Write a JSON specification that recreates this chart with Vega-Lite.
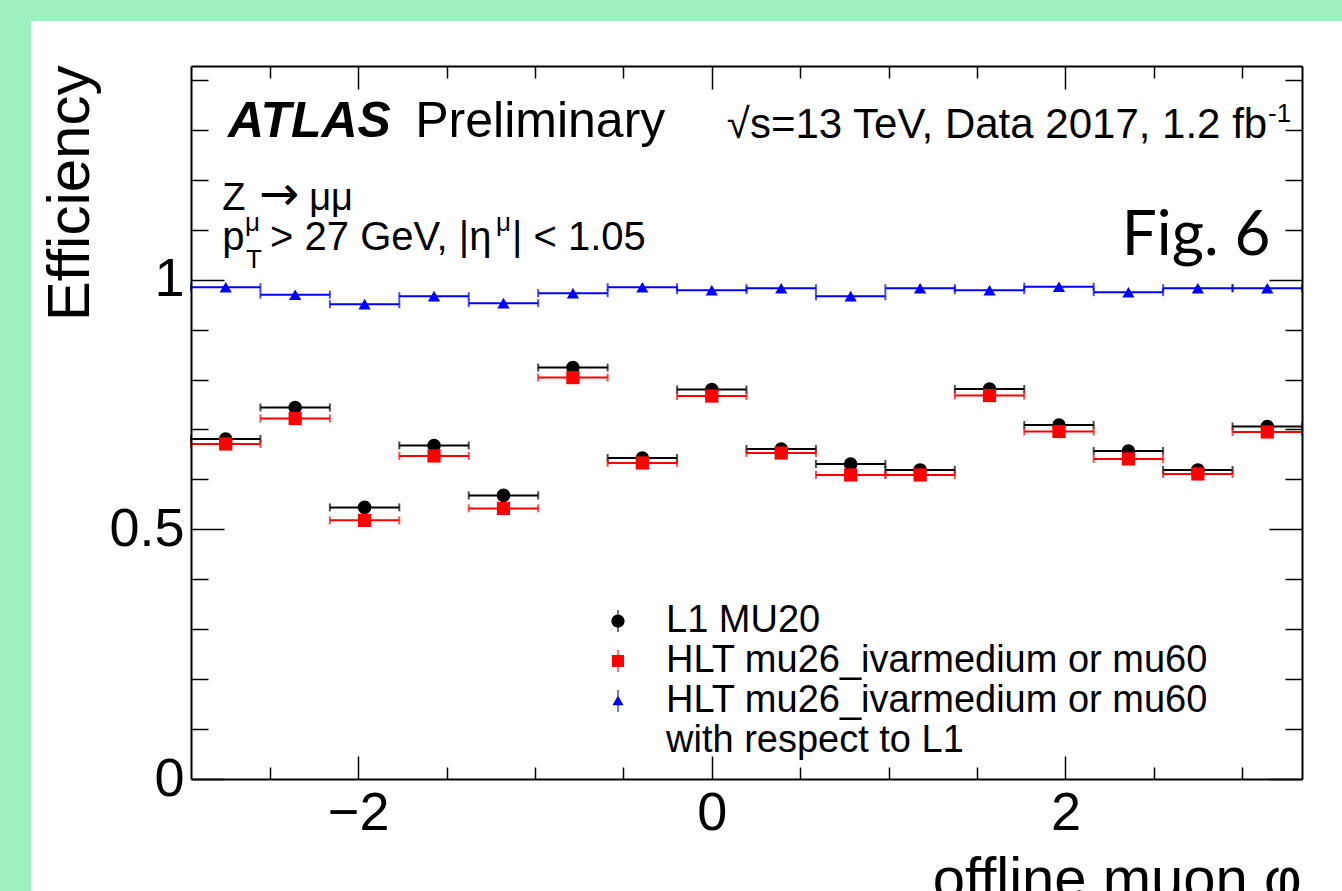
{
  "$schema": "https://vega.github.io/schema/vega-lite/v6.json",
  "width": 1111,
  "height": 713,
  "autosize": {"type": "none"},
  "padding": {"left": 191, "top": 66, "right": 40, "bottom": 112},
  "background": "#9ff0bf",
  "config": {"view": {"stroke": null}, "font": "Liberation Sans"},
  "datasets": {
    "eff": [
      {"s": "l1", "c": -2.7489, "lo": -2.9452, "hi": -2.5525, "e": 0.681},
      {"s": "l1", "c": -2.3562, "lo": -2.5525, "hi": -2.1598, "e": 0.744},
      {"s": "l1", "c": -1.9635, "lo": -2.1598, "hi": -1.7671, "e": 0.544},
      {"s": "l1", "c": -1.5708, "lo": -1.7671, "hi": -1.3744, "e": 0.668},
      {"s": "l1", "c": -1.1781, "lo": -1.3744, "hi": -0.9817, "e": 0.568},
      {"s": "l1", "c": -0.7854, "lo": -0.9817, "hi": -0.589, "e": 0.824},
      {"s": "l1", "c": -0.3927, "lo": -0.589, "hi": -0.1963, "e": 0.643},
      {"s": "l1", "c": 0.0, "lo": -0.1963, "hi": 0.1963, "e": 0.78},
      {"s": "l1", "c": 0.3927, "lo": 0.1963, "hi": 0.589, "e": 0.661},
      {"s": "l1", "c": 0.7854, "lo": 0.589, "hi": 0.9817, "e": 0.631},
      {"s": "l1", "c": 1.1781, "lo": 0.9817, "hi": 1.3744, "e": 0.619},
      {"s": "l1", "c": 1.5708, "lo": 1.3744, "hi": 1.7671, "e": 0.781},
      {"s": "l1", "c": 1.9635, "lo": 1.7671, "hi": 2.1598, "e": 0.709},
      {"s": "l1", "c": 2.3562, "lo": 2.1598, "hi": 2.5525, "e": 0.657},
      {"s": "l1", "c": 2.7489, "lo": 2.5525, "hi": 2.9452, "e": 0.619},
      {"s": "l1", "c": 3.1416, "lo": 2.9452, "hi": 3.3379, "e": 0.706},
      {"s": "hlt", "c": -2.7489, "lo": -2.9452, "hi": -2.5525, "e": 0.671},
      {"s": "hlt", "c": -2.3562, "lo": -2.5525, "hi": -2.1598, "e": 0.722},
      {"s": "hlt", "c": -1.9635, "lo": -2.1598, "hi": -1.7671, "e": 0.518},
      {"s": "hlt", "c": -1.5708, "lo": -1.7671, "hi": -1.3744, "e": 0.647},
      {"s": "hlt", "c": -1.1781, "lo": -1.3744, "hi": -0.9817, "e": 0.542},
      {"s": "hlt", "c": -0.7854, "lo": -0.9817, "hi": -0.589, "e": 0.804},
      {"s": "hlt", "c": -0.3927, "lo": -0.589, "hi": -0.1963, "e": 0.633},
      {"s": "hlt", "c": 0.0, "lo": -0.1963, "hi": 0.1963, "e": 0.767},
      {"s": "hlt", "c": 0.3927, "lo": 0.1963, "hi": 0.589, "e": 0.653},
      {"s": "hlt", "c": 0.7854, "lo": 0.589, "hi": 0.9817, "e": 0.609},
      {"s": "hlt", "c": 1.1781, "lo": 0.9817, "hi": 1.3744, "e": 0.609},
      {"s": "hlt", "c": 1.5708, "lo": 1.3744, "hi": 1.7671, "e": 0.768},
      {"s": "hlt", "c": 1.9635, "lo": 1.7671, "hi": 2.1598, "e": 0.696},
      {"s": "hlt", "c": 2.3562, "lo": 2.1598, "hi": 2.5525, "e": 0.641},
      {"s": "hlt", "c": 2.7489, "lo": 2.5525, "hi": 2.9452, "e": 0.611},
      {"s": "hlt", "c": 3.1416, "lo": 2.9452, "hi": 3.3379, "e": 0.695},
      {"s": "rel", "c": -2.7489, "lo": -2.9452, "hi": -2.5525, "e": 0.985},
      {"s": "rel", "c": -2.3562, "lo": -2.5525, "hi": -2.1598, "e": 0.97},
      {"s": "rel", "c": -1.9635, "lo": -2.1598, "hi": -1.7671, "e": 0.951},
      {"s": "rel", "c": -1.5708, "lo": -1.7671, "hi": -1.3744, "e": 0.967},
      {"s": "rel", "c": -1.1781, "lo": -1.3744, "hi": -0.9817, "e": 0.953},
      {"s": "rel", "c": -0.7854, "lo": -0.9817, "hi": -0.589, "e": 0.973},
      {"s": "rel", "c": -0.3927, "lo": -0.589, "hi": -0.1963, "e": 0.985},
      {"s": "rel", "c": 0.0, "lo": -0.1963, "hi": 0.1963, "e": 0.979},
      {"s": "rel", "c": 0.3927, "lo": 0.1963, "hi": 0.589, "e": 0.983},
      {"s": "rel", "c": 0.7854, "lo": 0.589, "hi": 0.9817, "e": 0.967},
      {"s": "rel", "c": 1.1781, "lo": 0.9817, "hi": 1.3744, "e": 0.983},
      {"s": "rel", "c": 1.5708, "lo": 1.3744, "hi": 1.7671, "e": 0.979},
      {"s": "rel", "c": 1.9635, "lo": 1.7671, "hi": 2.1598, "e": 0.986},
      {"s": "rel", "c": 2.3562, "lo": 2.1598, "hi": 2.5525, "e": 0.975},
      {"s": "rel", "c": 2.7489, "lo": 2.5525, "hi": 2.9452, "e": 0.983},
      {"s": "rel", "c": 3.1416, "lo": 2.9452, "hi": 3.3379, "e": 0.983}
    ]
  },
  "layer": [
    {
      "layer": [
        {
          "data": {"values": [{}]},
          "mark": {"type": "rect", "fill": "white", "clip": false},
          "encoding": {
            "x": {
              "datum": -3.85, "type": "quantitative",
              "scale": {"domain": [-2.9452, 3.3379], "nice": false, "zero": false},
              "axis": {
                "orient": "bottom",
                "values": [-2.5, -2, -1.5, -1, -0.5, 0, 0.5, 1, 1.5, 2, 2.5, 3],
                "tickSize": {"condition": {"test": "datum.value % 2 === 0", "value": -23}, "value": -12},
                "tickColor": "black", "tickWidth": 1.5,
                "domain": true, "domainColor": "black", "domainWidth": 2,
                "grid": false,
                "format": "~g",
                "labelExpr": "datum.value % 2 === 0 ? datum.label : ''",
                "labelFontSize": 54, "labelFont": "Liberation Sans", "labelColor": "black",
                "labelPadding": 30, "labelFlush": false, "labelOverlap": false, "labelBound": false,
                "title": "offline muon φ",
                "titleFontSize": 58, "titleFont": "Liberation Sans", "titleFontWeight": "normal", "titleColor": "black",
                "titleAnchor": "end", "titleAlign": "right", "titleBaseline": "alphabetic",
                "titleX": 1110, "titleY": 118, "titleAngle": 0,
                "zindex": 1
              }
            },
            "x2": {"datum": 4.5},
            "y": {
              "datum": 1.518, "type": "quantitative",
              "scale": {"domain": [0, 1.428], "nice": false, "zero": false},
              "axis": {
                "orient": "left",
                "values": [0, 0.1, 0.2, 0.3, 0.4, 0.5, 0.6, 0.7, 0.8, 0.9, 1, 1.1, 1.2, 1.3, 1.4],
                "tickSize": {"condition": {"test": "datum.value === 0 || datum.value === 0.5 || datum.value === 1", "value": -33}, "value": -17},
                "tickColor": "black", "tickWidth": 1.5,
                "domain": true, "domainColor": "black", "domainWidth": 2,
                "grid": false,
                "format": "~g",
                "labelExpr": "datum.value === 0 || datum.value === 0.5 || datum.value === 1 ? datum.label : ''",
                "labelFontSize": 54, "labelFont": "Liberation Sans", "labelColor": "black",
                "labelPadding": 40, "labelFlush": false, "labelOverlap": false, "labelBound": false,
                "labelAlign": "right", "labelBaseline": "middle",
                "title": "Efficiency",
                "titleFontSize": 60, "titleFont": "Liberation Sans", "titleFontWeight": "normal", "titleColor": "black",
                "titleAnchor": "end", "titleAlign": "right", "titleBaseline": "alphabetic",
                "titleAngle": -90, "titleX": -103, "titleY": -1,
                "zindex": 1
              }
            },
            "y2": {"datum": -0.5}
          }
        },
        {
          "data": {"name": "eff"},
          "mark": {"type": "rule", "strokeWidth": 2},
          "encoding": {
            "x": {"field": "lo", "type": "quantitative"},
            "x2": {"field": "hi"},
            "y": {"field": "e", "type": "quantitative"},
            "color": {"condition": [{"test": "datum.s === 'l1'", "value": "#000000"}, {"test": "datum.s === 'hlt'", "value": "#ff0000"}], "value": "#0000ff"}
          }
        },
        {
          "data": {"name": "eff"},
          "mark": {"type": "tick", "orient": "vertical", "size": 8, "thickness": 2},
          "encoding": {
            "x": {"field": "lo", "type": "quantitative"},
            "y": {"field": "e", "type": "quantitative"},
            "color": {"condition": [{"test": "datum.s === 'l1'", "value": "#000000"}, {"test": "datum.s === 'hlt'", "value": "#ff0000"}], "value": "#0000ff"}
          }
        },
        {
          "data": {"name": "eff"},
          "mark": {"type": "tick", "orient": "vertical", "size": 8, "thickness": 2},
          "encoding": {
            "x": {"field": "hi", "type": "quantitative"},
            "y": {"field": "e", "type": "quantitative"},
            "color": {"condition": [{"test": "datum.s === 'l1'", "value": "#000000"}, {"test": "datum.s === 'hlt'", "value": "#ff0000"}], "value": "#0000ff"}
          }
        },
        {
          "data": {"name": "eff"},
          "mark": {"type": "point", "filled": true, "opacity": 1, "strokeWidth": 0},
          "encoding": {
            "x": {"field": "c", "type": "quantitative"},
            "y": {"field": "e", "type": "quantitative"},
            "color": {"condition": [{"test": "datum.s === 'l1'", "value": "#000000"}, {"test": "datum.s === 'hlt'", "value": "#ff0000"}], "value": "#0000ff"},
            "shape": {"condition": [{"test": "datum.s === 'l1'", "value": "circle"}, {"test": "datum.s === 'hlt'", "value": "square"}], "value": "triangle-up"},
            "size": {"condition": [{"test": "datum.s === 'l1'", "value": 185}, {"test": "datum.s === 'hlt'", "value": 175}], "value": 150}
          }
        },
        {
          "data": {"values": [{}]},
          "mark": {"type": "text", "text": "ATLAS", "fontSize": 50, "fontWeight": "bold", "fontStyle": "italic", "align": "left", "baseline": "alphabetic", "color": "black", "font": "Liberation Sans"},
          "encoding": {"x": {"datum": -2.736, "type": "quantitative"}, "y": {"datum": 1.286, "type": "quantitative"}}
        },
        {
          "data": {"values": [{}]},
          "mark": {"type": "text", "text": "Preliminary", "fontSize": 50, "align": "left", "baseline": "alphabetic", "color": "black", "font": "Liberation Sans"},
          "encoding": {"x": {"datum": -1.677, "type": "quantitative"}, "y": {"datum": 1.286, "type": "quantitative"}}
        },
        {
          "data": {"values": [{}]},
          "mark": {"type": "text", "text": "√s=13 TeV, Data 2017, 1.2 fb", "fontSize": 42, "align": "right", "baseline": "alphabetic", "color": "black", "font": "Liberation Sans"},
          "encoding": {"x": {"datum": 3.141, "type": "quantitative"}, "y": {"datum": 1.284, "type": "quantitative"}}
        },
        {
          "data": {"values": [{}]},
          "mark": {"type": "text", "text": "-1", "fontSize": 26, "align": "left", "baseline": "alphabetic", "color": "black", "font": "Liberation Sans"},
          "encoding": {"x": {"datum": 3.146, "type": "quantitative"}, "y": {"datum": 1.316, "type": "quantitative"}}
        },
        {
          "data": {"values": [{}]},
          "mark": {"type": "text", "text": "Z", "fontSize": 38, "align": "left", "baseline": "alphabetic", "color": "black", "font": "Liberation Sans"},
          "encoding": {"x": {"datum": -2.768, "type": "quantitative"}, "y": {"datum": 1.1396, "type": "quantitative"}}
        },
        {
          "data": {"values": [{}]},
          "mark": {"type": "text", "text": "→", "fontSize": 48, "align": "left", "baseline": "alphabetic", "color": "black", "font": "DejaVu Sans"},
          "encoding": {"x": {"datum": -2.56, "type": "quantitative"}, "y": {"datum": 1.1396, "type": "quantitative"}}
        },
        {
          "data": {"values": [{}]},
          "mark": {"type": "text", "text": "μμ", "fontSize": 38, "align": "left", "baseline": "alphabetic", "color": "black", "font": "Liberation Sans"},
          "encoding": {"x": {"datum": -2.277, "type": "quantitative"}, "y": {"datum": 1.1396, "type": "quantitative"}}
        },
        {
          "data": {"values": [{}]},
          "mark": {"type": "text", "text": "p", "fontSize": 40, "align": "left", "baseline": "alphabetic", "color": "black", "font": "Liberation Sans"},
          "encoding": {"x": {"datum": -2.768, "type": "quantitative"}, "y": {"datum": 1.0595, "type": "quantitative"}}
        },
        {
          "data": {"values": [{}]},
          "mark": {"type": "text", "text": "μ", "fontSize": 26, "align": "left", "baseline": "alphabetic", "color": "black", "font": "Liberation Sans"},
          "encoding": {"x": {"datum": -2.64, "type": "quantitative"}, "y": {"datum": 1.098, "type": "quantitative"}}
        },
        {
          "data": {"values": [{}]},
          "mark": {"type": "text", "text": "T", "fontSize": 26, "align": "left", "baseline": "alphabetic", "color": "black", "font": "Liberation Sans"},
          "encoding": {"x": {"datum": -2.634, "type": "quantitative"}, "y": {"datum": 1.0234, "type": "quantitative"}}
        },
        {
          "data": {"values": [{}]},
          "mark": {"type": "text", "text": "> 27 GeV, |η", "fontSize": 40, "align": "left", "baseline": "alphabetic", "color": "black", "font": "Liberation Sans"},
          "encoding": {"x": {"datum": -2.498, "type": "quantitative"}, "y": {"datum": 1.0595, "type": "quantitative"}}
        },
        {
          "data": {"values": [{}]},
          "mark": {"type": "text", "text": "μ", "fontSize": 26, "align": "left", "baseline": "alphabetic", "color": "black", "font": "Liberation Sans"},
          "encoding": {"x": {"datum": -1.22, "type": "quantitative"}, "y": {"datum": 1.098, "type": "quantitative"}}
        },
        {
          "data": {"values": [{}]},
          "mark": {"type": "text", "text": "|  < 1.05", "fontSize": 40, "align": "left", "baseline": "alphabetic", "color": "black", "font": "Liberation Sans"},
          "encoding": {"x": {"datum": -1.13, "type": "quantitative"}, "y": {"datum": 1.0595, "type": "quantitative"}}
        },
        {
          "data": {"values": [{}]},
          "mark": {"type": "text", "text": "Fig. 6", "fontSize": 62, "align": "right", "baseline": "alphabetic", "color": "black", "font": "Lato"},
          "encoding": {"x": {"datum": 3.159, "type": "quantitative"}, "y": {"datum": 1.0495, "type": "quantitative"}}
        }
      ]
    },
    {
      "data": {"name": "eff"},
      "mark": {"type": "point", "filled": true, "opacity": 0},
      "encoding": {
        "x": {
          "field": "c", "type": "quantitative",
          "scale": {"domain": [-2.9452, 3.3379], "nice": false, "zero": false},
          "axis": {
            "orient": "top",
            "values": [-2.5, -2, -1.5, -1, -0.5, 0, 0.5, 1, 1.5, 2, 2.5, 3],
            "tickSize": {"condition": {"test": "datum.value % 2 === 0", "value": -23}, "value": -12},
            "tickColor": "black", "tickWidth": 1.5,
            "domain": true, "domainColor": "black", "domainWidth": 2,
            "grid": false, "labels": false, "title": null, "zindex": 1
          }
        },
        "y": {
          "field": "e", "type": "quantitative",
          "scale": {"domain": [0, 1.428], "nice": false, "zero": false},
          "axis": {
            "orient": "right",
            "values": [0, 0.1, 0.2, 0.3, 0.4, 0.5, 0.6, 0.7, 0.8, 0.9, 1, 1.1, 1.2, 1.3, 1.4],
            "tickSize": {"condition": {"test": "datum.value === 0 || datum.value === 0.5 || datum.value === 1", "value": -33}, "value": -17},
            "tickColor": "black", "tickWidth": 1.5,
            "domain": true, "domainColor": "black", "domainWidth": 2,
            "grid": false, "labels": false, "title": null, "zindex": 1
          }
        },
        "color": {
          "field": "s", "type": "nominal",
          "scale": {"domain": ["l1", "hlt", "rel", "wrt"], "range": ["#000000", "#ff0000", "#0000ff", "rgba(0,0,0,0)"]},
          "legend": {
            "orient": "none", "legendX": 408, "legendY": 536, "title": null, "padding": 0,
            "symbolSize": 484, "symbolStrokeWidth": 0, "symbolOpacity": 1,
            "labelFontSize": 38, "labelFont": "Liberation Sans", "labelColor": "black",
            "labelOffset": 29, "rowPadding": 2, "labelLimit": 0,
            "labelExpr": "datum.value === 'l1' ? 'L1 MU20' : datum.value === 'wrt' ? 'with respect to L1' : 'HLT mu26_ivarmedium or mu60'"
          }
        },
        "shape": {
          "field": "s", "type": "nominal",
          "scale": {"domain": ["l1", "hlt", "rel", "wrt"], "range": [
            "M-0.6,0A0.6,0.6,0,1,1,0.6,0A0.6,0.6,0,1,1,-0.6,0Z M-0.05,-1L0.05,-1L0.05,1L-0.05,1Z",
            "M-0.55,-0.55L0.55,-0.55L0.55,0.55L-0.55,0.55Z M-0.05,-1L0.05,-1L0.05,1L-0.05,1Z",
            "M0,-0.5L0.5,0.38L-0.5,0.38Z M-0.05,-1L0.05,-1L0.05,1L-0.05,1Z",
            "circle"
          ]},
          "legend": {
            "orient": "none", "legendX": 408, "legendY": 536, "title": null, "padding": 0,
            "symbolSize": 484, "symbolStrokeWidth": 0, "symbolOpacity": 1,
            "labelFontSize": 38, "labelFont": "Liberation Sans", "labelColor": "black",
            "labelOffset": 29, "rowPadding": 2, "labelLimit": 0,
            "labelExpr": "datum.value === 'l1' ? 'L1 MU20' : datum.value === 'wrt' ? 'with respect to L1' : 'HLT mu26_ivarmedium or mu60'"
          }
        }
      }
    }
  ],
  "resolve": {"axis": {"x": "independent", "y": "independent"}}
}
